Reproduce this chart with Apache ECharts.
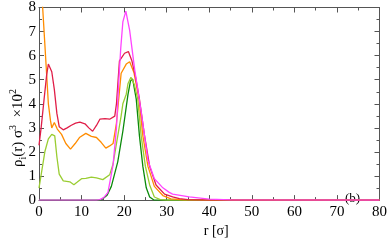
<!DOCTYPE html>
<html><head><meta charset="utf-8">
<script src="https://cdn.jsdelivr.net/npm/echarts@6/dist/echarts.min.js"></script>
<style>html,body{margin:0;padding:0;background:#fff}#c{width:390px;height:243px}</style>
</head><body><div id="c"></div>
<script>
// r positions and values (rho_i(r) sigma^3 x 10^2) per series
var rOrange = [0, 0.86, 1.5, 2.2, 2.7, 3.0, 3.6, 4.3, 5.3, 6.3, 7.4, 8.5, 9.5, 11, 12.3, 13.5, 14.6, 15.7, 16.6, 17.4, 18.2, 19.3, 20.5, 21.3, 22.3, 23.5, 24.4, 25.6, 27.1, 29.1, 31, 34, 40, 80];
var yOrange = [10.5, 8.0, 6.1, 4.0, 3.3, 3.0, 3.22, 2.95, 2.73, 2.35, 2.12, 2.35, 2.6, 2.77, 2.65, 2.6, 2.4, 2.16, 2.25, 2.35, 3.2, 5.27, 5.65, 5.75, 5.3, 4.19, 2.67, 1.4, 0.57, 0.19, 0.05, 0.01, 0, 0];

var rRed = [0, 0.5, 1.2, 1.8, 2.2, 3.0, 3.6, 4.2, 4.75, 5.7, 6.6, 7.6, 8.6, 9.6, 10.8, 11.7, 12.6, 13.5, 14.3, 15.5, 16.6, 17.8, 18.2, 18.9, 20.1, 21.0, 21.8, 22.7, 23.6, 24.8, 26, 27.5, 29.5, 31.4, 33, 35, 40, 80];
var yRed = [2.28, 3.0, 4.2, 5.2, 5.65, 5.33, 4.6, 3.6, 3.05, 2.92, 3.0, 3.11, 3.2, 3.24, 3.17, 3.0, 2.86, 3.1, 3.36, 3.38, 3.36, 3.49, 4.0, 5.78, 6.1, 6.17, 5.8, 5.1, 4.19, 2.67, 1.4, 0.63, 0.25, 0.13, 0.06, 0.02, 0, 0];

var rLight = [0, 1.4, 2.2, 3.0, 3.7, 4.2, 4.75, 5.7, 7.25, 8.2, 9.0, 10, 11, 12.3, 13.5, 15, 16.6, 17.4, 18.2, 19.3, 19.7, 20.5, 20.9, 21.6, 22.4, 23.2, 24, 25, 26, 27.1, 28.5, 30, 80];
var yLight = [0.5, 2.03, 2.54, 2.73, 2.67, 1.8, 1.08, 0.8, 0.76, 0.64, 0.75, 0.89, 0.9, 0.95, 0.92, 0.85, 1.05, 1.5, 2.35, 3.5, 4.0, 4.4, 4.83, 5.1, 4.8, 4.19, 2.67, 1.4, 0.63, 0.13, 0.02, 0, 0];

var rDark = [0, 14, 14.7, 16, 17, 18.5, 19.7, 20.9, 21.5, 22, 22.85, 23.6, 24.4, 25.2, 26, 27, 80];
var yDark = [0, 0, 0.02, 0.2, 0.57, 1.59, 2.86, 4.38, 4.95, 5.03, 4.19, 2.67, 1.4, 0.51, 0.13, 0, 0];

var rPink = [0, 13.5, 14.3, 15.2, 16.2, 17.4, 18.2, 18.7, 19.2, 19.7, 20.4, 21.3, 22.5, 24, 25.6, 27.1, 29.1, 30.6, 31.4, 35.3, 40, 45, 80];
var yPink = [0, 0, 0.02, 0.1, 0.32, 1.46, 3.0, 4.8, 6.3, 7.4, 7.85, 7.05, 5.4, 3.68, 1.65, 0.89, 0.51, 0.32, 0.25, 0.13, 0.04, 0.01, 0];

var xTicks = [0, 10, 20, 30, 40, 50, 60, 70, 80];
var yTicks = [0, 1, 2, 3, 4, 5, 6, 7, 8];

function pairs(r, y) { return r.map(function (v, i) { return [v, y[i]]; }); }

var serif = '"Liberation Serif", "DejaVu Serif", serif';
var axisCol = '#555';
function axisBase(extra) {
  var a = {
    type: 'value',
    axisLine: { show: true, onZero: false, lineStyle: { color: axisCol, width: 1 } },
    axisTick: { show: true, inside: true, length: 5, lineStyle: { color: axisCol } },
    minorTick: { show: true, splitNumber: 2, length: 3, lineStyle: { color: axisCol } },
    splitLine: { show: false },
    axisLabel: { show: false }
  };
  for (var k in extra) a[k] = extra[k];
  return a;
}

var chart = echarts.init(document.getElementById('c'), null, { renderer: 'canvas' });
function line(name, color, data) {
  return { name: name, type: 'line', data: data, showSymbol: false, symbol: 'none',
    lineStyle: { color: color, width: 1.3 }, itemStyle: { color: color }, clip: true, animation: false };
}
chart.setOption({
  animation: false,
  grid: { left: 39, right: 9, top: 5, bottom: 28 },
  xAxis: [
    axisBase({ min: xTicks[0], max: xTicks[xTicks.length - 1], interval: 10, position: 'bottom',
      axisLabel: { show: true, fontFamily: serif, fontSize: 15, color: '#000', margin: 4 },
      name: 'r [σ]', nameLocation: 'middle', nameGap: 16,
      nameTextStyle: { fontFamily: serif, fontSize: 14, color: '#000', padding: [0, 0, 0, 14] } }),
    axisBase({ min: xTicks[0], max: xTicks[xTicks.length - 1], interval: 10, position: 'top' })
  ],
  yAxis: [
    axisBase({ min: yTicks[0], max: yTicks[yTicks.length - 1], interval: 1, position: 'left',
      axisLabel: { show: true, fontFamily: serif, fontSize: 15, color: '#000', margin: 3 } }),
    axisBase({ min: yTicks[0], max: yTicks[yTicks.length - 1], interval: 1, position: 'right' })
  ],
  graphic: [
    { type: 'text', left: 345, top: 192, style: { text: '(b)', font: '13px ' + serif, fill: '#000' } },
    { type: 'text', x: 8, y: 167, rotation: Math.PI / 2,
      style: {
        text: '{a|ρ}{sub|i}{a|(r) σ}{sup|3}{a|  ×10}{sup|2}',
        fill: '#000',
        rich: {
          a: { fontFamily: serif, fontSize: 15, fill: '#000', lineHeight: 20, verticalAlign: 'middle' },
          sub: { fontFamily: serif, fontSize: 10, fill: '#000', verticalAlign: 'bottom', lineHeight: 20 },
          sup: { fontFamily: serif, fontSize: 10, fill: '#000', verticalAlign: 'top', lineHeight: 20 }
        }
      } }
  ],
  series: [
    line('dark green', '#0a8a0a', pairs(rDark, yDark)),
    line('light green', '#9acd32', pairs(rLight, yLight)),
    line('orange', '#ff8c00', pairs(rOrange, yOrange)),
    line('red', '#e01e48', pairs(rRed, yRed)),
    line('pink', '#ff44ff', pairs(rPink, yPink))
  ]
});
</script></body></html>
